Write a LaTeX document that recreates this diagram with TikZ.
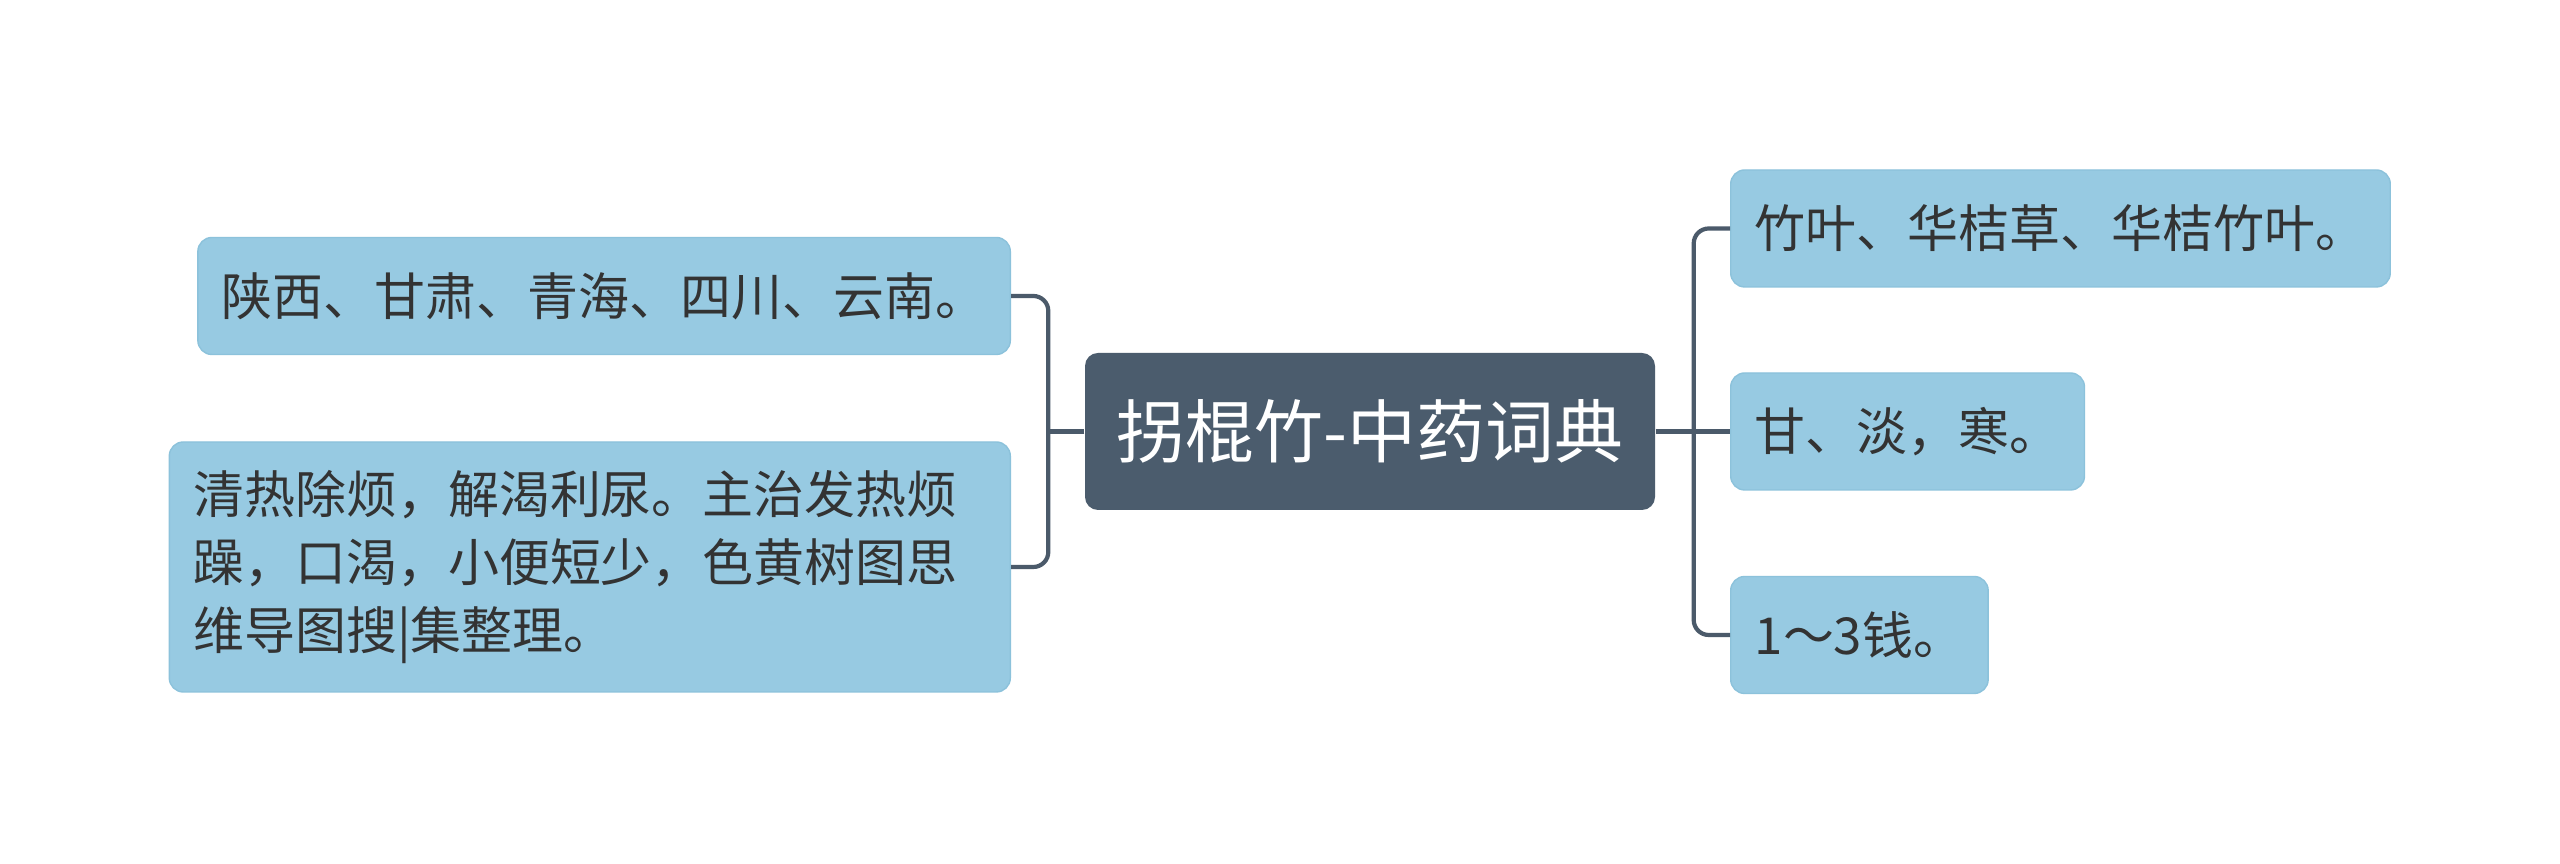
\documentclass[tikz,border=0pt]{standalone}
\usepackage{fontspec}
\setmainfont{Noto Sans CJK SC}
\usetikzlibrary{positioning}

\definecolor{topicfill}{HTML}{4B5C6D}
\definecolor{leaffill}{HTML}{97CAE2}
\definecolor{leafedge}{HTML}{8CC2DB}
\definecolor{leaftext}{HTML}{333333}
\definecolor{linkcol}{HTML}{4B5A6A}

\begin{document}
\begin{tikzpicture}[
    topic/.style={rectangle, rounded corners=0.13cm, fill=topicfill, text=white,
      font=\fontsize{19.6pt}{23pt}\selectfont, minimum width=5.70cm, minimum height=1.57cm},
    leaf/.style={rectangle, rounded corners=0.14cm, fill=leaffill, draw=leafedge,
      line width=0.4pt, text=leaftext, font=\fontsize{14.5pt}{19.3pt}\selectfont,
      inner xsep=0.24cm, minimum height=1.17cm},
    link/.style={draw=linkcol, line width=0.042cm, rounded corners=0.15cm}]
    \useasboundingbox[fill=white] (0,0) rectangle (25.60,8.64);
    % central topic
    \node[topic] (center) at (13.70,4.325) {拐棍竹-中药词典};
    % left branch
    \node[leaf, anchor=east] (origin) at (10.11,5.68) {陕西、甘肃、青海、四川、云南。};
    \node[leaf, anchor=east, text width=7.93cm, align=left, minimum height=2.50cm]
      (usage) at (10.11,2.97)
      {清热除烦，解渴利尿。主治发热烦\\躁，口渴，小便短少，色黄树图思\\维导图搜|集整理。};
    % right branch
    \node[leaf, anchor=west] (alias) at (17.30,6.355) {竹叶、华桔草、华桔竹叶。};
    \node[leaf, anchor=west] (taste) at (17.30,4.325) {甘、淡，寒。};
    \node[leaf, anchor=west] (dose) at (17.30,2.29) {1～3钱。};
    % connectors
    \draw[link] (center.west) -- ++(-0.36,0) coordinate (lj);
    \draw[link] (origin.east) -| (lj) |- (usage.east);
    \draw[link] (center.east) -- (taste.west);
    \path (center.east) ++(0.38,0) coordinate (rj);
    \draw[link] (alias.west) -| (rj) |- (dose.west);
  \end{tikzpicture}
\end{document}
